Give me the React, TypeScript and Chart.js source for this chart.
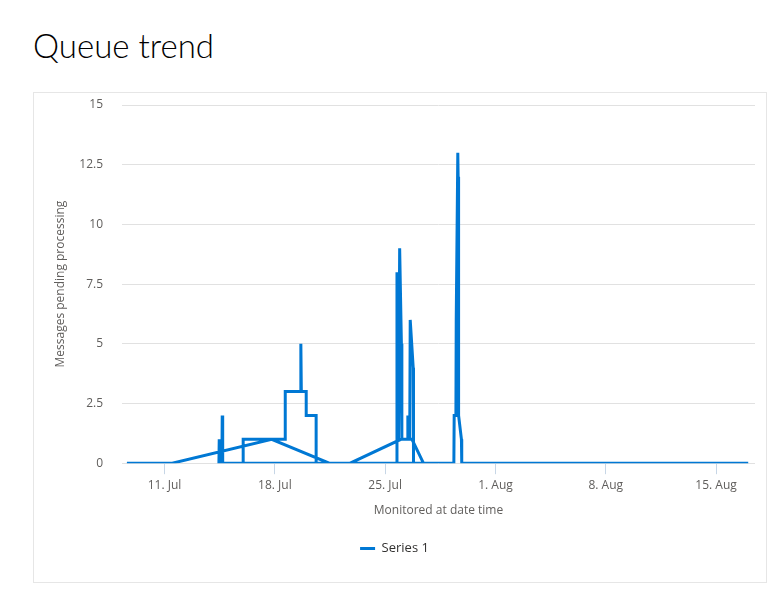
import React, { useEffect, useRef } from "react";
import { Chart, registerables } from "chart.js";

Chart.register(...registerables);

// Time of each sample, in days counted from 0 July (so 32 = 1 Aug), in recorded order
const sampleDays = [
  8.61, 11.49, 17.8, 21.45, 22.78, 26.0, 26.7, 27.43,
  14.45, 14.47, 14.5, 14.64, 14.66, 14.69,
  15.99, 15.99, 18.66, 18.66, 19.62, 19.65, 19.68, 19.99, 19.99, 20.62, 20.62,
  25.74, 25.75, 25.85, 25.92, 26.03, 26.06, 26.42, 26.44, 26.5, 26.56, 26.59, 26.78, 26.8,
  29.36, 29.38, 29.49, 29.51, 29.61, 29.63, 29.66, 29.84, 29.86, 48.04,
];
// Messages pending processing for each sample
const pendingMessages = [
  0, 0, 1, 0, 0, 1, 1, 0,
  0, 1, 0, 0, 2, 0,
  0, 1, 1, 3, 3, 5, 3, 3, 2, 2, 0,
  0, 8, 1, 9, 5, 1, 1, 2, 1, 1, 6, 4, 0,
  0, 2, 2, 6, 13, 12, 2, 1, 0, 0,
];

const xTickDays = [11, 18, 25, 32, 39, 46];
const xTickLabels = ["11. Jul", "18. Jul", "25. Jul", "1. Aug", "8. Aug", "15. Aug"];
const seriesName = "Series 1";

const FONT = "'Open Sans', 'Noto Sans', sans-serif";

export default function App() {
  const ref = useRef<HTMLCanvasElement | null>(null);

  useEffect(() => {
    if (!ref.current) return;
    const points = sampleDays.map((d, i) => ({ x: d, y: pendingMessages[i] }));
    const chart = new Chart(ref.current, {
      type: "line",
      data: {
        datasets: [
          {
            label: seriesName,
            data: points,
            borderColor: "#0078d4",
            backgroundColor: "#0078d4",
            borderWidth: 3,
            pointRadius: 0,
            pointHoverRadius: 0,
            pointStyle: "line",
            tension: 0,
            fill: false,
          },
        ],
      },
      options: {
        animation: false,
        responsive: false,
        maintainAspectRatio: false,
        layout: { padding: { left: 0, right: 11, top: 0, bottom: 17 } },
        plugins: {
          legend: {
            display: true,
            position: "bottom",
            labels: {
              usePointStyle: true,
              pointStyle: "line",
              pointStyleWidth: 15,
              boxHeight: 3,
              color: "#323130",
              padding: 10,
              font: { family: FONT, size: 13 },
            },
          },
          tooltip: { enabled: false },
        },
        scales: {
          x: {
            type: "linear",
            min: 8.3,
            max: 48.47,
            border: { display: false },
            grid: {
              display: true,
              drawOnChartArea: false,
              drawTicks: true,
              tickLength: 11,
              tickColor: "#c7d6e6",
            },
            afterBuildTicks: (scale: any) => {
              scale.ticks = xTickDays.map((v) => ({ value: v }));
            },
            ticks: {
              color: "#605e5c",
              padding: 4,
              maxRotation: 0,
              autoSkip: false,
              font: { family: FONT, size: 12 },
              callback: (v: any) => {
                const i = xTickDays.indexOf(Number(v));
                return i >= 0 ? xTickLabels[i] : "";
              },
            },
            title: {
              display: true,
              text: "Monitored at date time",
              color: "#605e5c",
              font: { family: FONT, size: 12 },
              padding: { top: 7, bottom: 14 },
            },
          },
          y: {
            min: 0,
            max: 15,
            border: { display: false },
            grid: { color: "#e1e1e1", drawTicks: false, lineWidth: 1 },
            ticks: {
              stepSize: 2.5,
              color: "#605e5c",
              padding: 19,
              font: { family: FONT, size: 12 },
            },
            title: {
              display: true,
              text: "Messages pending processing",
              color: "#605e5c",
              font: { family: FONT, size: 12 },
              padding: { top: 19, bottom: 0 },
            },
            afterFit: (scale: any) => {
              scale.width = 88;
              scale.paddingTop = 12;
              scale.paddingBottom = 8;
            },
          },
        },
      },
    });
    return () => chart.destroy();
  }, []);

  return (
    <div>
      <div
        style={{
          position: "absolute",
          left: 33,
          top: 29,
          fontFamily: "'Lato', 'Open Sans', sans-serif",
          fontWeight: 300,
          fontSize: 33,
          lineHeight: "32px",
          color: "#000",
          whiteSpace: "nowrap",
        }}
      >
        Queue trend
      </div>
      <div
        style={{
          position: "absolute",
          left: 33,
          top: 92,
          width: 732,
          height: 489,
          border: "1px solid #e6e6e6",
        }}
      >
        <canvas ref={ref} width={732} height={489} style={{ display: "block", width: 732, height: 489 }} />
      </div>
    </div>
  );
}
